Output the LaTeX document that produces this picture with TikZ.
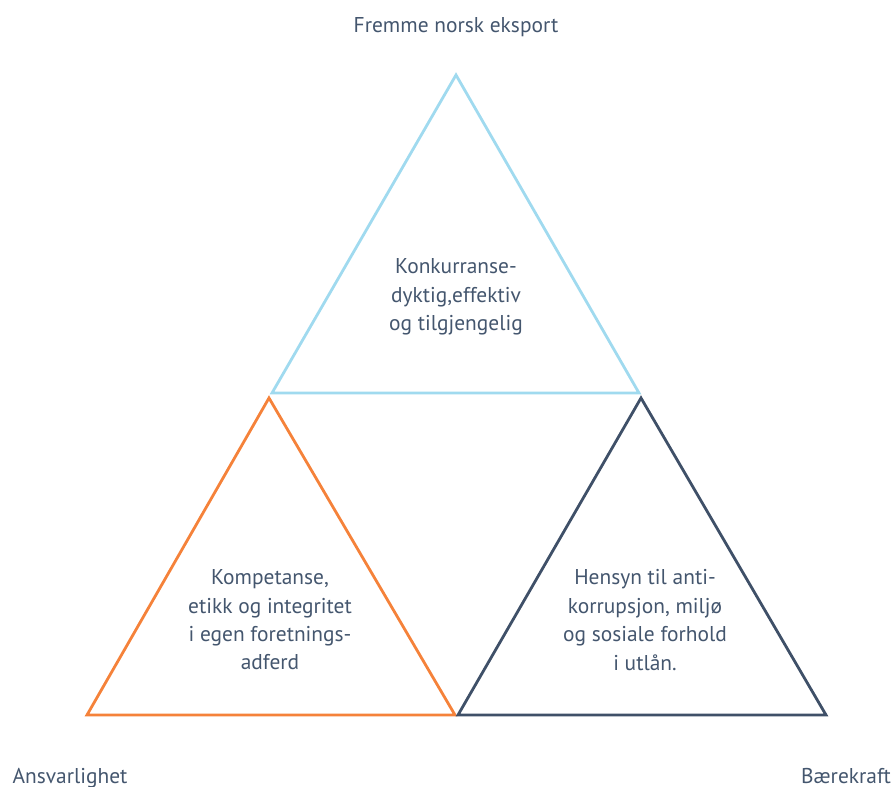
\documentclass[tikz,border=0pt]{standalone}
\usepackage{fontspec}
\setmainfont{PT Sans}
\usetikzlibrary{positioning}
\definecolor{lysblaa}{HTML}{A0DAEF}
\definecolor{oransje}{HTML}{F5823A}
\definecolor{morkblaa}{HTML}{3F5068}
\definecolor{tekst}{HTML}{44566E}
\tikzset{
  kant/.style={line width=2.8bp, line join=miter},
  tekstboks/.style={align=center, text=tekst, font=\fontsize{21.5}{28.5}\selectfont, inner sep=0pt},
}

\begin{document}
\begin{tikzpicture}
\useasboundingbox (0,0) rectangle (892bp,787bp);
% nedre venstre trekant
\coordinate (a1) at (87bp,72bp);
\coordinate[right=368bp of a1] (a2);
\coordinate (a3) at (269bp,389bp);
% nedre hoyre trekant
\coordinate[right=3bp of a2] (b1);
\coordinate[right=368bp of b1] (b2);
\coordinate (b3) at (641bp,389bp);
% ovre trekant
\coordinate (c1) at (272bp,394bp);
\coordinate[right=367bp of c1] (c2);
\coordinate (c3) at (456bp,712bp);

\draw[kant, lysblaa] (c1)--(c2)--(c3)--cycle;
\draw[kant, oransje] (a1)--(a2)--(a3)--cycle;
\draw[kant, morkblaa] (b1)--(b2)--(b3)--cycle;

\node[tekstboks] (konk) at (456bp,490bp) {Konkurranse-\\dyktig,effektiv\\og tilgjengelig};
\node[tekstboks] (komp) at (270bp,167bp) {Kompetanse,\\etikk og integritet\\i egen foretnings-\\adferd};
\node[tekstboks] (hens) at (645bp,167bp) {Hensyn til anti-\\korrupsjon, miljø\\og sosiale forhold\\i utlån.};

\node[tekstboks, anchor=base] (eksport) at (456bp,754bp) {Fremme norsk eksport};
\node[tekstboks, anchor=base] (ansvar) at (70bp,4bp) {Ansvarlighet};
\node[tekstboks, anchor=base] (baere) at (846bp,4bp) {Bærekraft};
\end{tikzpicture}
\end{document}
